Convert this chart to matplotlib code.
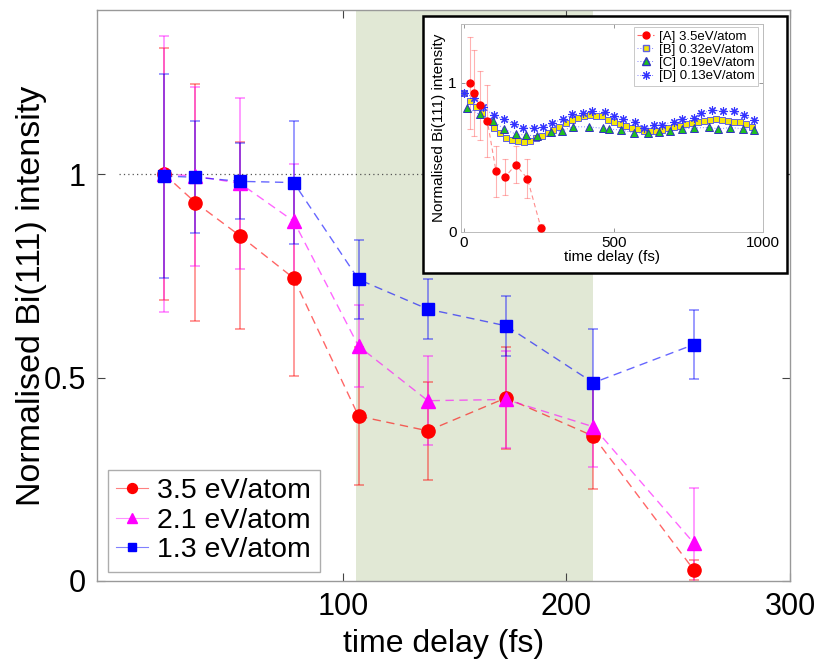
import matplotlib
matplotlib.use("Agg")
import matplotlib.pyplot as plt
from matplotlib.patches import Rectangle

plt.rcParams['font.family'] = ['Liberation Sans', 'DejaVu Sans']

# ---- main data ----
t_main = [20, 34, 54, 78, 107, 138, 173, 212, 257]
y_35 = [1.0, 0.93, 0.848, 0.744, 0.405, 0.369, 0.45, 0.356, 0.027]
e_35 = [0.31, 0.29, 0.23, 0.24, 0.17, 0.12, 0.125, 0.13, 0.025]
y_21 = [1.0, 0.995, 0.977, 0.884, 0.577, 0.443, 0.446, 0.379, 0.093]
e_21 = [0.34, 0.22, 0.21, 0.14, 0.10, 0.11, 0.12, 0.10, 0.135]
y_13 = [0.995, 0.992, 0.982, 0.979, 0.741, 0.668, 0.627, 0.487, 0.581]
e_13 = [0.25, 0.138, 0.093, 0.152, 0.098, 0.073, 0.073, 0.133, 0.085]
labels_main = ['3.5 eV/atom', '2.1 eV/atom', '1.3 eV/atom']
shade_span = (106, 212)

# ---- inset data ----
t_B = [0, 19, 39, 59, 80, 101, 120, 142, 160, 180, 200, 220, 241, 260, 280, 299,
       318, 341, 361, 380, 400, 421, 441, 461, 481, 501, 521, 541, 560, 581, 601,
       621, 641, 661, 681, 701, 722, 742, 762, 782, 802, 822, 842, 862, 883, 903,
       923, 943, 963]
y_B = [0.928, 0.877, 0.834, 0.80, 0.74, 0.697, 0.662, 0.631, 0.615, 0.606, 0.602,
       0.609, 0.626, 0.642, 0.66, 0.682, 0.704, 0.727, 0.747, 0.765, 0.774, 0.783,
       0.779, 0.774, 0.749, 0.738, 0.723, 0.709, 0.698, 0.687, 0.676, 0.676, 0.678,
       0.685, 0.694, 0.70, 0.711, 0.72, 0.732, 0.738, 0.745, 0.749, 0.754, 0.749,
       0.745, 0.738, 0.734, 0.72, 0.705]
t_C = [10, 52, 98, 135, 175, 208, 245, 290, 328, 363, 418, 465, 486, 525, 567,
       616, 650, 689, 728, 768, 820, 850, 890, 932, 968]
y_C = [0.832, 0.787, 0.743, 0.687, 0.654, 0.648, 0.643, 0.667, 0.676, 0.705,
       0.703, 0.694, 0.689, 0.682, 0.664, 0.664, 0.667, 0.677, 0.688, 0.696,
       0.70, 0.69, 0.699, 0.691, 0.685]
t_D = [0, 35, 62, 100, 134, 168, 198, 234, 265, 293, 331, 362, 397, 427, 472,
       500, 530, 573, 601, 634, 662, 701, 729, 769, 791, 830, 864, 901, 934, 970]
y_D = [0.933, 0.897, 0.838, 0.78, 0.754, 0.72, 0.698, 0.698, 0.70, 0.727, 0.757,
       0.787, 0.794, 0.81, 0.801, 0.779, 0.754, 0.738, 0.694, 0.716, 0.718, 0.738,
       0.756, 0.765, 0.794, 0.817, 0.81, 0.81, 0.783, 0.75]
labels_inset = ['[A] 3.5eV/atom', '[B] 0.32eV/atom', '[C] 0.19eV/atom', '[D] 0.13eV/atom']

W, H = 816, 659
fig = plt.figure(figsize=(W / 100, H / 100), dpi=100)

# main axes
ax = fig.add_axes([97 / W, 1 - 581 / H, 693 / W, 571 / H])
ax.axvspan(*shade_span, color='#e1e8d5', zorder=0, lw=0)
ax.plot([0, 300], [1, 1], ls=(0, (1, 2.5)), color='#555555', lw=0.9, zorder=1)

specs = [
    (y_35, e_35, '#ff0000', '#ff8080', 'o', 9.5, labels_main[0]),
    (y_21, e_21, '#ff00ff', '#ff90ff', '^', 10, labels_main[1]),
    (y_13, e_13, '#0000ff', '#8080ff', 's', 8, labels_main[2]),
]
handles = []
for yv, ev, c, lc, m, ms, lab in specs:
    ax.errorbar(t_main, yv, yerr=ev, fmt='none', ecolor=c, alpha=0.5,
                elinewidth=1.1, capsize=3.5, capthick=1.1, zorder=2)
    ax.plot(t_main, yv, ls=(0, (6, 4)), color=c, alpha=0.6, lw=1.0, zorder=3)
    ax.plot(t_main, yv, ls='none', marker=m, ms=ms, color=c, mec=c, zorder=4)
    h, = ax.plot([], [], ls='-', color=lc, lw=0.8, marker=m, ms=ms * 0.75,
                 mec=c, mfc=c, label=lab)
    handles.append(h)

ax.set_xlim(-10, 300)
ax.set_ylim(0, 1.403)
ax.set_xticks([100, 200, 300])
ax.set_yticks([0, 0.5, 1])
ax.set_yticklabels(['0', '0.5', '1'])
ax.tick_params(direction='in', length=6, width=0.8, color='#444444',
               labelsize=22, right=True, top=True, pad=8)
for s in ax.spines.values():
    s.set_color('#999999')
    s.set_linewidth(1.0)
ax.set_xlabel('time delay (fs)', fontsize=23, labelpad=5)
ax.set_ylabel('Normalised Bi(111) intensity', fontsize=24.5)
ax.yaxis.set_label_coords(-0.072, 0.5)

leg = ax.legend(handles=handles, loc='lower left', bbox_to_anchor=(0.0154, 0.0163),
                borderaxespad=0, fontsize=20.5, frameon=True, fancybox=False,
                edgecolor='#999999', handlelength=1.1, handletextpad=0.35,
                labelspacing=0.12, borderpad=0.3)
leg.get_frame().set_linewidth(1.0)

# inset outer box
box = Rectangle((422.7 / W, 1 - 273 / H), 364 / W, 257 / H, transform=fig.transFigure,
                facecolor='white', edgecolor='black', lw=1.8, zorder=5)
fig.patches.append(box)

ast = (8, 2, 0)
ia = fig.add_axes([461 / W, 1 - 231.7 / H, 302.3 / W, 207.7 / H], zorder=6)
ia.errorbar(t_main, y_35, yerr=e_35, fmt='none', ecolor='#ff0000', alpha=0.3,
            elinewidth=0.8, capsize=2, capthick=0.8, zorder=2)
ia.plot(t_main, y_35, ls=(0, (4, 3)), color='#ff0000', alpha=0.45, lw=0.8, zorder=3)
ia.plot(t_main, y_35, ls='none', marker='o', ms=5, color='#ff0000', zorder=6)
ia.plot(t_B, y_B, ls=(0, (1, 2)), color='#8080ff', lw=0.7, zorder=3)
ia.plot(t_B, y_B, ls='none', marker='s', ms=4.5, mfc='#f5e60a', mec='#6060e0', mew=0.7, zorder=4)
ia.plot(t_C, y_C, ls=(0, (1, 2)), color='#8080ff', lw=0.7, zorder=3)
ia.plot(t_C, y_C, ls='none', marker='^', ms=5.5, mfc='#20c020', mec='#3030c0', mew=0.7, zorder=5)
ia.plot(t_D, y_D, ls=(0, (1, 2)), color='#8080ff', lw=0.7, zorder=3)
ia.plot(t_D, y_D, ls='none', marker=ast, ms=6, color='#3333ff', mec='#3333ff', mew=0.8, zorder=4)

hA, = ia.plot([], [], ls=(0, (4, 3)), color='#ff6666', lw=0.8, marker='o', ms=5,
              mfc='#ff0000', mec='#ff0000', label=labels_inset[0])
hB, = ia.plot([], [], ls=(0, (1, 2)), color='#8080ff', lw=0.7, marker='s', ms=4.5,
              mfc='#f5e60a', mec='#6060e0', label=labels_inset[1])
hC, = ia.plot([], [], ls=(0, (1, 2)), color='#8080ff', lw=0.7, marker='^', ms=5.5,
              mfc='#20c020', mec='#3030c0', label=labels_inset[2])
hD, = ia.plot([], [], ls=(0, (1, 2)), color='#8080ff', lw=0.7, marker=ast, ms=6,
              mfc='#3333ff', mec='#3333ff', mew=0.8, label=labels_inset[3])

ia.set_xlim(-10, 1000)
ia.set_ylim(0, 1.394)
ia.set_xticks([0, 500, 1000])
ia.set_yticks([0, 1])
ia.tick_params(direction='in', length=3, width=0.6, color='#888888',
               labelsize=11, pad=3, right=True, top=True)
for s in ia.spines.values():
    s.set_color('#bbbbbb')
    s.set_linewidth(0.7)
ia.set_xlabel('time delay (fs)', fontsize=11, labelpad=0)
ia.set_ylabel('Normalised Bi(111) intensity', fontsize=11, labelpad=2)
il = ia.legend(handles=[hA, hB, hC, hD], loc='upper right',
               bbox_to_anchor=(0.983, 0.9856), borderaxespad=0, fontsize=9.5,
               frameon=True, fancybox=False, edgecolor='#bbbbbb',
               handlelength=1.3, handletextpad=0.35, labelspacing=0.08, borderpad=0.25)
il.get_frame().set_linewidth(0.7)

fig.savefig('out.png', dpi=100)
